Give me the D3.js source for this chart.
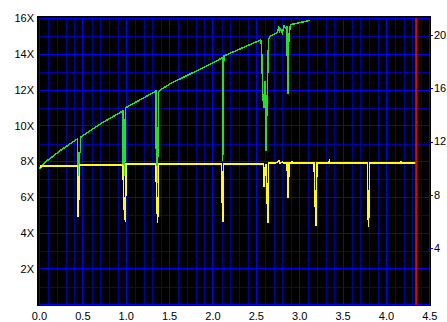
<!DOCTYPE html>
<html>
<head>
<meta charset="utf-8">
<script src="https://cdn.jsdelivr.net/npm/d3@7"></script>
<style>
  html, body { margin: 0; padding: 0; background: #ffffff; }
  svg { display: block; }
  text { font-family: "Liberation Sans", Arial, sans-serif; font-size: 11px; fill: #000; }
</style>
</head>
<body>
<svg id="chart" width="447" height="322"></svg>
<script>
// ---------- data ----------
const xTickValues = [0, 0.5, 1, 1.5, 2, 2.5, 3, 3.5, 4, 4.5];
const xTickLabels = ["0.0", "0.5", "1.0", "1.5", "2.0", "2.5", "3.0", "3.5", "4.0", "4.5"];
const leftTickValues = [2, 4, 6, 8, 10, 12, 14, 16];
const leftTickLabels = ["2X", "4X", "6X", "8X", "10X", "12X", "14X", "16X"];
const rightTickValues = [4, 8, 12, 16, 20];
const rightTickLabels = ["4", "8", "12", "16", "20"];

// read speed (left axis, X) vs position (GB)
const speedPos = [0, 0.05, 0.25, 0.436, 0.438, 0.445, 0.447, 0.455, 0.458, 0.47, 0.472, 0.7, 0.961, 0.963, 0.97, 0.975, 0.985, 0.99,
  1.343, 1.345, 1.355, 1.365, 1.375, 1.385, 1.515, 1.975, 2.108, 2.11, 2.112, 2.12, 2.125, 2.55, 2.56, 2.575, 2.59, 2.6, 2.61, 2.625,
  2.64, 2.655, 2.74, 2.76, 2.77, 2.78, 2.8, 2.82, 2.845, 2.855, 2.858, 2.865, 2.875, 2.893, 3.12];
const speedVal = [7.6, 7.9, 8.65, 9.26, 6.3, 6.3, 7.0, 7.0, 8.5, 8.5, 9.35, 10.1, 10.83, 7.5, 6.8, 8.0, 8.0, 11.0,
  11.94, 9.0, 6.8, 8.5, 11.9, 11.98, 12.37, 13.46, 13.8, 10.0, 8.05, 10.5, 13.9, 14.8, 14.5, 11.6, 11.0, 12.5, 8.6, 11.5,
  14.8, 15.0, 15.2, 15.5, 15.3, 15.4, 15.2, 15.6, 15.4, 15.55, 12.5, 11.76, 15.0, 15.65, 15.9];

// second trace (right axis) vs position (GB)
const rotPos = [0, 0.02, 0.02, 0.436, 0.44, 0.446, 0.452, 0.458, 0.462, 0.96, 0.965, 0.975, 0.99, 0.995, 1.0,
  1.34, 1.345, 1.355, 1.362, 1.37, 1.375, 2.1, 2.108, 2.116, 2.122, 2.58, 2.587, 2.6, 2.61, 2.625, 2.633, 2.64,
  2.7, 2.74, 2.76, 2.77, 2.8, 2.82, 2.855, 2.86, 2.866, 2.872, 2.878, 2.91, 2.915, 2.92,
  3.165, 3.17, 3.18, 3.19, 3.195, 3.2, 3.33, 3.34, 3.345, 3.78, 3.785, 3.792, 3.8, 3.805, 4.16, 4.17, 4.18, 4.34];
const rotVal = [10.04, 10.04, 10.17, 10.17, 8.24, 6.32, 7.39, 9.27, 10.24, 10.24, 9.27, 7.04, 5.99, 8.14, 10.3,
  10.3, 9.2, 7.0, 5.87, 8.0, 10.3, 10.32, 7.11, 5.99, 10.32, 10.32, 8.62, 10.0, 10.3, 7.5, 5.87, 10.37,
  10.37, 10.42, 10.57, 10.37, 10.45, 10.37, 10.42, 8.5, 7.79, 8.8, 10.37, 10.37, 10.54, 10.37,
  10.37, 9.19, 6.94, 5.67, 8.8, 10.37, 10.37, 10.54, 10.37, 10.37, 7.99, 5.61, 6.81, 10.37, 10.37, 10.48, 10.37, 10.37];

const markerPos = [4.343];

// ---------- drawing ----------
const svg = d3.select("#chart");
const x = d3.scaleLinear().domain([0, 4.5]).range([39.5, 429.8]);
const yL = d3.scaleLinear().domain([0, 16]).range([304.5, 18.5]);
const yR = d3.scaleLinear().domain([0, 20]).range([301.3, 35]);

// plot background with sunken top-left border
svg.append("rect").attr("x", 37).attr("y", 16).attr("width", 394).attr("height", 290).attr("fill", "#000");

const minorX = d3.range(0, 46).map(i => i / 10).filter(v => Math.abs(v * 2 - Math.round(v * 2)) > 1e-6);
const minorY = d3.range(1, 16, 2);
const g = svg.append("g").attr("shape-rendering", "crispEdges");
g.selectAll(".vminor").data(minorX).join("line")
  .attr("x1", d => Math.round(x(d)) + 0.5).attr("x2", d => Math.round(x(d)) + 0.5)
  .attr("y1", 18).attr("y2", 305).attr("stroke", "#0000a8").attr("stroke-width", 1);
g.selectAll(".hminor").data(minorY).join("line")
  .attr("y1", d => Math.round(yL(d)) + 0.5).attr("y2", d => Math.round(yL(d)) + 0.5)
  .attr("x1", 39).attr("x2", 430).attr("stroke", "#0000a8").attr("stroke-width", 1);
g.selectAll(".vmajor").data(xTickValues).join("line")
  .attr("x1", d => Math.floor(x(d)) + 0.5).attr("x2", d => Math.floor(x(d)) + 0.5)
  .attr("y1", 18).attr("y2", 305).attr("stroke", "#0000ff").attr("stroke-width", 1);
g.selectAll(".hmajor").data([0].concat(leftTickValues)).join("line")
  .attr("y1", d => Math.floor(yL(d)) + 0.5).attr("y2", d => Math.floor(yL(d)) + 0.5)
  .attr("x1", 39).attr("x2", 430).attr("stroke", "#0000ff").attr("stroke-width", 1);

// border (dark top/left)
g.append("line").attr("x1", 37).attr("x2", 431).attr("y1", 17).attr("y2", 17).attr("stroke", "#000").attr("stroke-width", 2);
g.append("line").attr("x1", 38).attr("x2", 38).attr("y1", 16).attr("y2", 306).attr("stroke", "#000").attr("stroke-width", 2);

// right-axis tick marks
g.selectAll(".rtick").data(rightTickValues).join("line")
  .attr("x1", 430).attr("x2", 433)
  .attr("y1", d => Math.round(yR(d)) + 0.5).attr("y2", d => Math.round(yR(d)) + 0.5)
  .attr("stroke", "#0000ff");

// traces
const speedData = speedPos.map((p, i) => [p, speedVal[i]]);
const rotData = rotPos.map((p, i) => [p, rotVal[i]]);
const lineL = d3.line().x(d => x(d[0])).y(d => yL(d[1]));
const lineR = d3.line().x(d => x(d[0])).y(d => yR(d[1]));

svg.append("path").datum(speedData).attr("d", lineL)
  .attr("fill", "none").attr("stroke", "#1ee61e").attr("stroke-width", 1.5).attr("shape-rendering", "crispEdges");
svg.append("path").datum(rotData).attr("d", lineR)
  .attr("fill", "none").attr("stroke", "#ffff00").attr("stroke-width", 1.5).attr("shape-rendering", "crispEdges");

svg.selectAll(".marker").data(markerPos).join("line")
  .attr("x1", d => x(d)).attr("x2", d => x(d)).attr("y1", 18).attr("y2", 305)
  .attr("stroke", "#ee0000").attr("stroke-width", 2);

// labels
svg.selectAll(".xl").data(xTickValues).join("text")
  .attr("x", d => x(d)).attr("y", 320).attr("text-anchor", "middle")
  .text((d, i) => xTickLabels[i]);
svg.selectAll(".yl").data(leftTickValues).join("text")
  .attr("x", 34).attr("y", d => yL(d)).attr("dy", "0.36em").attr("text-anchor", "end")
  .text((d, i) => leftTickLabels[i]);
svg.selectAll(".yr").data(rightTickValues).join("text")
  .attr("x", 434).attr("y", d => yR(d)).attr("dy", "0.36em").attr("text-anchor", "start")
  .text((d, i) => rightTickLabels[i]);
</script>
</body>
</html>
